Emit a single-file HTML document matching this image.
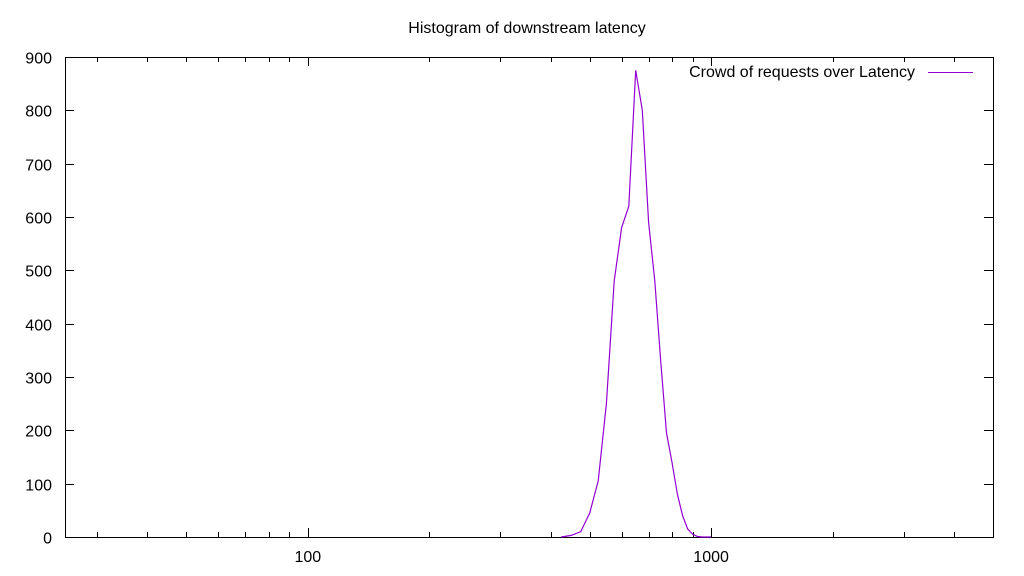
<!DOCTYPE html>
<html><head><meta charset="utf-8"><style>
body{margin:0;background:#fff;}
svg{display:block;font-family:"Liberation Sans",sans-serif;font-size:16px;}
</style></head><body>
<svg id="chart" width="1024" height="576" viewBox="0 0 1024 576" xmlns="http://www.w3.org/2000/svg">
<rect x="0" y="0" width="1024" height="576" fill="#fff"/>
<text x="527" y="33" text-anchor="middle">Histogram of downstream latency</text>
<g id="axes"></g>
<rect x="65.5" y="57.5" width="928" height="480" fill="none" stroke="#000" stroke-width="1"/>
<g>
<text x="915" y="77" text-anchor="end">Crowd of requests over Latency</text>
<line x1="928" y1="72.5" x2="973" y2="72.5" stroke="#9400d3" stroke-width="1"/>
</g>
<path id="series" fill="none" stroke="#9400d3" stroke-width="1.2"/>
</svg>
<script>
const latencies=[425,450,475,500,525,550,575,600,625,650,675,700,725,750,775,800,825,850,875,900,925,950,975,1000];
const counts=[0,3,10,45,105,250,480,580,620,875,800,590,480,330,195,140,80,40,15,5,1,0,0,0];
const yTicks=[0,100,200,300,400,500,600,700,800,900];
const xMajor=[100,1000];
const X0=65,X1=993,Y0=537,Y1=57,xmin=25,xmax=5000,ymax=900;
function xs(v){return X0+(Math.log10(v)-Math.log10(xmin))/(Math.log10(xmax)-Math.log10(xmin))*(X1-X0);}
function ys(v){return Y0-(v/ymax)*(Y0-Y1);}
const NS="http://www.w3.org/2000/svg";
const g=document.getElementById('axes');
function line(x1,y1,x2,y2,name){const l=document.createElementNS(NS,'line');l.setAttribute('x1',x1);l.setAttribute('y1',y1);l.setAttribute('x2',x2);l.setAttribute('y2',y2);l.setAttribute('stroke','#000');l.setAttribute('stroke-width','1');


g.appendChild(l);}
function text(x,y,s,anchor,name){const t=document.createElementNS(NS,'text');t.setAttribute('x',x);t.setAttribute('y',y);t.setAttribute('text-anchor',anchor);t.textContent=s;


g.appendChild(t);}
yTicks.forEach(v=>{const y=Math.round(ys(v))+0.5;line(X0,y,X0+9,y,'y-tick');line(X1-9,y,X1,y,'y-tick-mirror');text(52,y+6,String(v),'end','y-tick-label');});
for(let d=10;d<=1000;d*=10){for(let m=1;m<10;m++){const v=d*m;if(v<xmin||v>xmax)continue;const x=Math.round(xs(v))+0.5;const major=m===1;const len=major?9:5;line(x,Y0,x,Y0-len,'x-tick');line(x,Y1,x,Y1+len,'x-tick-mirror');}}
xMajor.forEach(v=>{text(xs(v),562,String(v),'middle','x-tick-label');});
let d='';latencies.forEach((v,i)=>{d+=(i?'L':'M')+xs(v).toFixed(1)+','+ys(counts[i]).toFixed(1);});
document.getElementById('series').setAttribute('d',d);
</script>
</body></html>
